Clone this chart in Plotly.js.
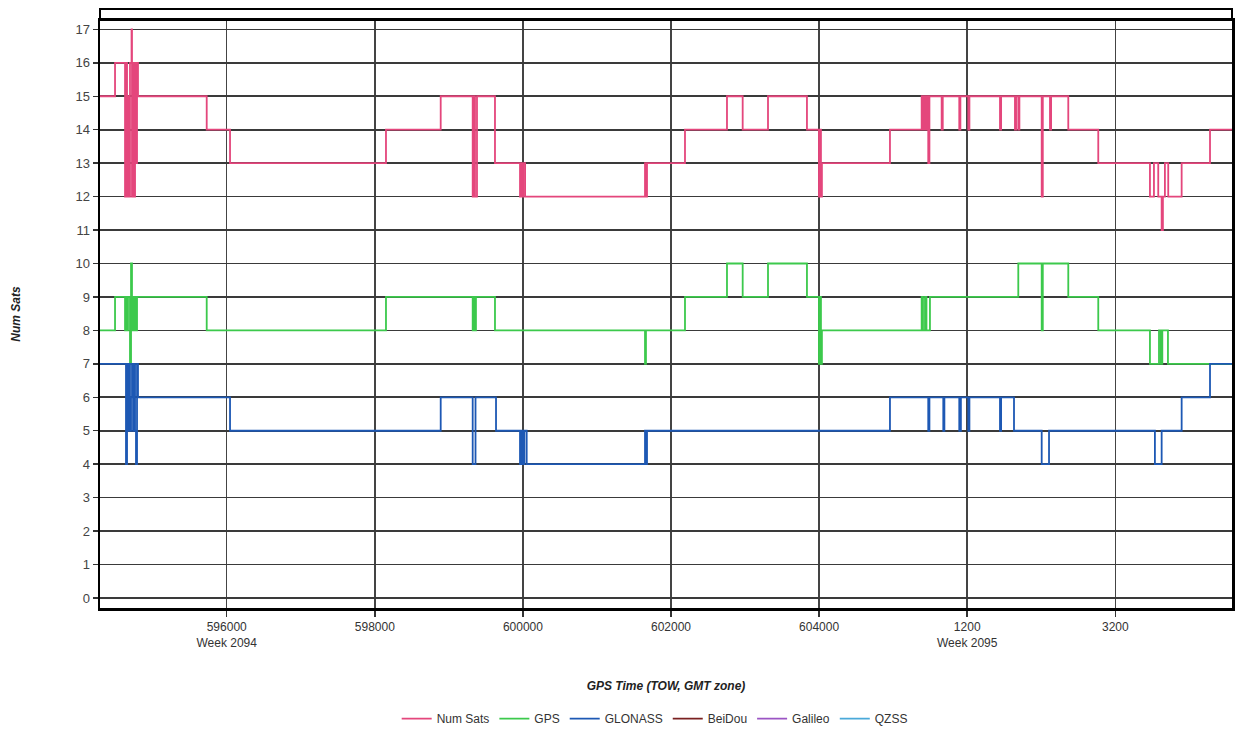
<!DOCTYPE html>
<html>
<head>
<meta charset="utf-8">
<script src="https://cdn.plot.ly/plotly-3.0.1.min.js"></script>
<style>html,body{margin:0;padding:0;background:#fff;}#chart{width:1237px;height:731px;}</style>
</head>
<body>
<div id="chart"></div>
<script>
// GPS time as continuous seconds (week 2094 TOW; week 2095 TOW = value - 604800)
const numSatsTime = [594289,594492,594627,594640,594654,594667,594681,594694,594715,594721,594735,594748,594762,594775,594789,594802,595730,596045,598151,598890,599322,599340,599353,599380,599623,599961,599975,599988,600005,600030,600051,601649,601662,601676,602189,602756,602968,603310,603836,603998,604011,604025,604038,604957,605385,605403,605420,605440,605457,605474,605490,605655,605670,605893,605908,606015,606030,606443,606458,606645,606660,606690,606705,607006,607021,607118,607133,607365,607770,608468,608522,608580,608626,608643,608670,608715,608896,609279,609576];
const numSatsVals = [15,16,12,16,12,15,12,16,17,12,16,12,16,13,16,15,14,13,14,15,12,15,12,15,13,12,13,12,13,12,12,13,12,13,14,15,14,15,14,12,14,12,13,14,15,14,15,14,15,13,15,14,15,14,15,14,15,14,15,14,15,14,15,12,15,14,15,14,13,12,13,12,11,12,13,12,13,14,14];

const gpsTime = [594289,594492,594627,594640,594654,594667,594694,594708,594721,594735,594748,594762,594775,594789,594802,595730,598151,599322,599335,599353,599366,599623,601649,601662,602189,602756,602968,603310,603836,603998,604011,604025,604038,605385,605403,605430,605450,605497,606690,607006,607021,607365,607770,608468,608590,608615,608635,608711,609576];
const gpsVals = [8,9,8,9,8,9,7,10,8,9,8,9,8,9,9,8,9,8,9,8,9,8,7,8,9,10,9,10,9,7,9,7,8,9,8,9,8,9,10,8,10,9,8,7,8,7,8,7,7];

const glonassTime = [594289,594640,594654,594667,594681,594694,594708,594721,594735,594748,594762,594775,594789,594802,596045,598890,599322,599360,599637,599961,599980,600000,600020,600051,601649,601662,601676,604957,605474,605490,605677,605692,605893,605915,606015,606030,606443,606458,606632,607006,607105,608535,608626,608896,609279,609576];
const glonassVals = [7,4,7,5,7,5,6,7,5,7,5,4,7,6,5,6,4,6,5,4,5,4,5,4,5,4,5,6,5,6,5,6,5,6,5,6,5,6,5,4,5,4,5,6,7,7];

// no samples for these constellations (legend entries only)
const beidouTime = [null], beidouVals = [null];
const galileoTime = [null], galileoVals = [null];
const qzssTime = [null], qzssVals = [null];

const xTickVals = [596000,598000,600000,602000,604000,606000,608000];
const xTickText = ['596000<br>Week 2094','598000','600000','602000','604000','1200<br>Week 2095','3200'];
const yTickVals = [0,1,2,3,4,5,6,7,8,9,10,11,12,13,14,15,16,17];

function tr(name, x, y, color){
  return {type:'scatter', mode:'lines', name:name, x:x, y:y, showlegend:true,
    line:{color:color, width:1.8, shape:'hv'}, hoverinfo:'skip'};
}
const data = [
  tr('Num Sats', numSatsTime, numSatsVals, '#e4467c'),
  tr('GPS', gpsTime, gpsVals, '#3cc94c'),
  tr('GLONASS', glonassTime, glonassVals, '#1d58b4'),
  tr('BeiDou', beidouTime, beidouVals, '#7a2020'),
  tr('Galileo', galileoTime, galileoVals, '#9b55c4'),
  tr('QZSS', qzssTime, qzssVals, '#4aa9d9')
];

const layout = {
  width:1237, height:731,
  margin:{l:100, r:5, t:20, b:123, autoexpand:false},
  paper_bgcolor:'#fff', plot_bgcolor:'#fff',
  font:{family:'Liberation Sans, Arial, sans-serif', size:12, color:'#333'},
  showlegend:true,
  legend:{orientation:'h', x:0.49, xanchor:'center', y:-0.188, yanchor:'middle',
    font:{size:12, color:'#333'}, itemwidth:30, tracegroupgap:0},
  xaxis:{range:[594289,609576], tickvals:xTickVals, ticktext:xTickText, automargin:false,
    showgrid:true, gridcolor:'#444', gridwidth:1.5, zeroline:false,
    ticks:'outside', ticklen:6, tickcolor:'#333', tickwidth:1.5,
    showline:true, linecolor:'#000', linewidth:2.5, mirror:true,
    tickfont:{size:12, color:'#333'},
    title:{text:'<b><i>GPS Time (TOW, GMT zone)</i></b>', font:{size:12, color:'#222'}, standoff:33}},
  yaxis:{range:[-0.3,17.28], tickvals:yTickVals, automargin:false,
    showgrid:true, gridcolor:'#3a3a3a', gridwidth:1.6, zeroline:false,
    ticks:'outside', ticklen:5, tickcolor:'#333', tickwidth:1.5,
    showline:true, linecolor:'#000', linewidth:2.5, mirror:true,
    tickfont:{size:13, color:'#444'},
    title:{text:'<b><i>Num Sats</i></b>', font:{size:12, color:'#222'}, standoff:52}},
  shapes:[
    {type:'rect', xref:'paper', yref:'paper', x0:0, x1:1, y0:1, y1:1.0187,
     line:{color:'#000', width:2}, fillcolor:'rgba(0,0,0,0)', layer:'above'}
  ]
};
Plotly.newPlot('chart', data, layout, {staticPlot:true});
</script>
</body>
</html>
